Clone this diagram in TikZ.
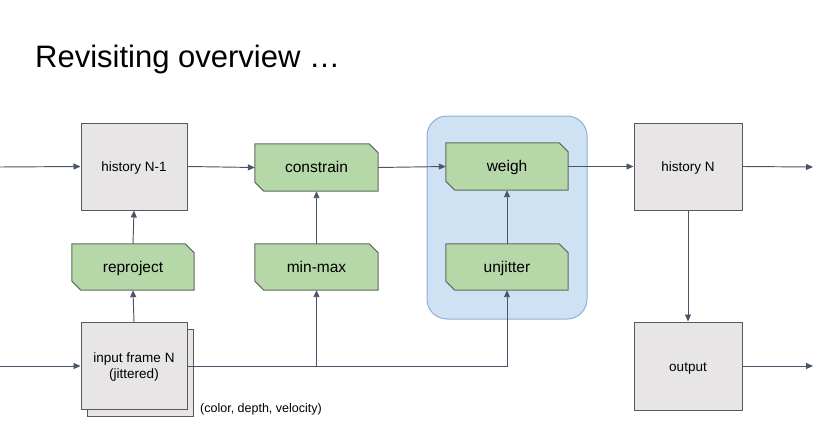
\documentclass[tikz,border=0pt]{standalone}
\usepackage{fontspec}
\setmainfont{Liberation Sans}
\usetikzlibrary{arrows.meta,calc}
\pgfdeclarelayer{back}
\pgfdeclarelayer{background}
\pgfsetlayers{back,background,main}
\definecolor{grayfill}{HTML}{E7E5E6}
\definecolor{grayline}{HTML}{595959}
\definecolor{greenfill}{HTML}{B6D7A8}
\definecolor{greenline}{HTML}{5F6B5F}
\definecolor{bluefill}{HTML}{CFE2F3}
\definecolor{blueline}{HTML}{8DB0D6}
\definecolor{arrowc}{HTML}{4A5568}
\tikzset{
  graybox/.style={draw=grayline, fill=grayfill, line width=1pt, inner sep=0pt,
    minimum width=106pt, minimum height=87pt, font=\fontsize{13.5}{16}\selectfont},
  oneline/.style={text height=1.02em, text depth=0em},
  greenbox/.style={inner sep=0pt, minimum width=122pt, minimum height=46pt,
    font=\fontsize{15.5}{18}\selectfont, text height=1.02em, text depth=0em},
  greenshape/.style={draw=greenline, fill=greenfill, line width=1pt},
  conn/.style={draw=arrowc, line width=0.95pt},
  arr/.style={conn, -{Triangle[length=7pt,width=6pt]}},
}
\newcommand\chamfbox[1]{%
  \begin{pgfonlayer}{background}
  \path[greenshape] (#1.north west) -- ([xshift=-9pt]#1.north east) -- ([yshift=-9pt]#1.north east)
    -- (#1.south east) -- ([xshift=9pt]#1.south west) -- ([yshift=9pt]#1.south west) -- cycle;
  \end{pgfonlayer}}
\begin{document}
\begin{tikzpicture}[x=1pt,y=-1pt]
\useasboundingbox (0,0) rectangle (814,444);
% title
\node[anchor=base west, inner sep=0pt, font=\fontsize{31}{36}\selectfont] (title) at (35,67) {Revisiting overview …};
% blue group
\begin{pgfonlayer}{back}
\node[draw=blueline, fill=bluefill, line width=1pt, rounded corners=20pt, minimum width=160pt, minimum height=203pt, inner sep=0pt] (grp) at (507,217.5) {};
\end{pgfonlayer}
% gray boxes
\node[graybox, oneline] (hist1) at (134,166.5) {history N-1};
\node[graybox] (inshadow) at (140.5,373) {};
\node[graybox, text height=10pt, text depth=10pt] (inframe) at (134,366) {\raisebox{-5pt}{\begin{tabular}{@{}c@{}}input frame N\\[-0.5pt](jittered)\end{tabular}}};
\node[graybox, oneline, minimum width=108pt] (histN) at (688,166.5) {history N};
\node[graybox, oneline, minimum width=108pt, minimum height=88pt] (output) at (688,366) {output};
% green boxes
\node[greenbox] (reproj) at (133,267) {reproject}; \chamfbox{reproj}
\node[greenbox, minimum width=123pt, minimum height=47pt] (constrain) at (316.5,167.5) {constrain}; \chamfbox{constrain}
\node[greenbox, minimum width=123pt] (minmax) at (316.5,267) {min-max}; \chamfbox{minmax}
\node[greenbox, minimum height=47pt] (weigh) at (507,166.5) {weigh}; \chamfbox{weigh}
\node[greenbox] (unjit) at (507,267) {unjitter}; \chamfbox{unjit}
% caption
\node[anchor=west, inner sep=0pt, font=\fontsize{12.5}{15}\selectfont] (cap) at (200,409) {(color, depth, velocity)};
% free ends
\coordinate (inA) at (0,167);
\coordinate (inB) at (0,366);
\coordinate (outA) at (813,167);
\coordinate (outB) at (813,366);
% connectors
\draw[arr] (inA) -- (hist1.west);
\draw[arr] (inB) -- (inframe.west);
\draw[arr] (inframe.north) -- (reproj.south);
\draw[arr] (reproj.north) -- (hist1.south);
\draw[arr] (hist1.east) -- (constrain.west);
\draw[arr] (minmax.north) -- (constrain.south);
\draw[arr] (constrain.east) -- (weigh.west);
\draw[arr] (unjit.north) -- (weigh.south);
\draw[arr] (weigh.east) -- (histN.west);
\draw[arr] (histN.east) -- (outA);
\draw[arr] (histN.south) -- (output.north);
\draw[arr] (output.east) -- (outB);
\draw[arr] (inframe.east) -| (unjit.south);
\draw[arr] (inframe.east -| minmax.south) -- (minmax.south);
\end{tikzpicture}
\end{document}
